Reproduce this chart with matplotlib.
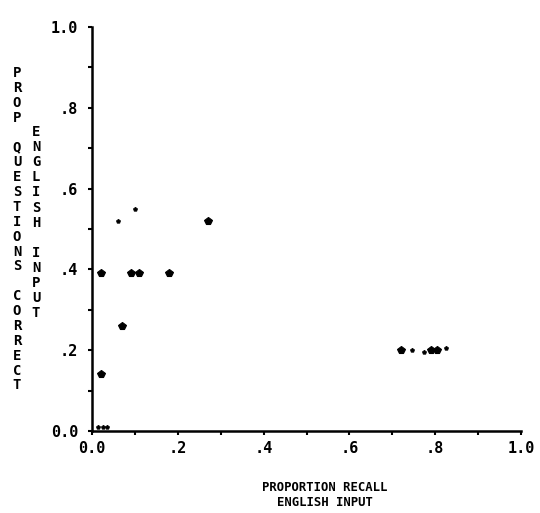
import matplotlib
matplotlib.use("Agg")
import matplotlib.pyplot as plt
from matplotlib.ticker import MultipleLocator, FixedLocator

# Subjects with larger plotted symbols
recall_big = [0.02, 0.09, 0.11, 0.18, 0.07, 0.02, 0.27, 0.72, 0.79, 0.805]
questions_big = [0.39, 0.39, 0.39, 0.39, 0.26, 0.14, 0.52, 0.20, 0.20, 0.20]

# Subjects with small plotted symbols
recall_small = [0.06, 0.10, 0.015, 0.025, 0.035, 0.745, 0.775, 0.825]
questions_small = [0.52, 0.55, 0.01, 0.01, 0.01, 0.20, 0.195, 0.205]

x_tick_values = [0.0, 0.2, 0.4, 0.6, 0.8, 1.0]
x_tick_labels = ["0.0", ".2", ".4", ".6", ".8", "1.0"]
y_tick_values = [0.0, 0.2, 0.4, 0.6, 0.8, 1.0]
y_tick_labels = ["0.0", ".2", ".4", ".6", ".8", "1.0"]

FONT = ["DejaVu Sans Mono"]

fig = plt.figure(figsize=(5.40, 5.13), dpi=100)
ax = fig.add_axes([0.1704, 0.1598, 0.7944, 0.7875])

ax.plot(recall_big, questions_big, linestyle="none", marker="p",
        markersize=6, color="black", markeredgewidth=0.8)
ax.plot(recall_small, questions_small, linestyle="none", marker="p",
        markersize=3, color="black", markeredgewidth=0.6)

ax.set_xlim(0, 1.0)
ax.set_ylim(0, 1.0)

for side in ("top", "right"):
    ax.spines[side].set_visible(False)
for side in ("left", "bottom"):
    ax.spines[side].set_linewidth(1.8)
    ax.spines[side].set_color("black")

ax.xaxis.set_major_locator(FixedLocator(x_tick_values))
ax.yaxis.set_major_locator(FixedLocator(y_tick_values))
ax.xaxis.set_minor_locator(MultipleLocator(0.1))
ax.yaxis.set_minor_locator(MultipleLocator(0.1))
ax.set_xticklabels(x_tick_labels, fontfamily=FONT, fontweight="bold", fontsize=11)
ax.set_yticklabels(y_tick_labels, fontfamily=FONT, fontweight="bold", fontsize=11)
ax.tick_params(which="both", direction="out", length=3, width=1.5, color="black")
ax.tick_params(axis="x", which="major", pad=4)
ax.tick_params(axis="y", which="major", pad=7)

# x-axis title, two centred lines
fig.text(325 / 540, 1 - 481 / 513, "PROPORTION RECALL\nENGLISH INPUT",
         ha="center", va="top", fontfamily=FONT, fontweight="bold",
         fontsize=8.8, linespacing=1.2, multialignment="center")

# y-axis titles, letters stacked vertically
fig.text(17 / 540, 1 - 66 / 513, "\n".join("PROP QUESTIONS CORRECT"),
         ha="center", va="top", fontfamily=FONT, fontweight="bold",
         fontsize=10, linespacing=1.08, multialignment="center")
fig.text(36 / 540, 1 - 125 / 513, "\n".join("ENGLISH INPUT"),
         ha="center", va="top", fontfamily=FONT, fontweight="bold",
         fontsize=10, linespacing=1.1, multialignment="center")

fig.savefig("out.png", dpi=100, facecolor="white")
